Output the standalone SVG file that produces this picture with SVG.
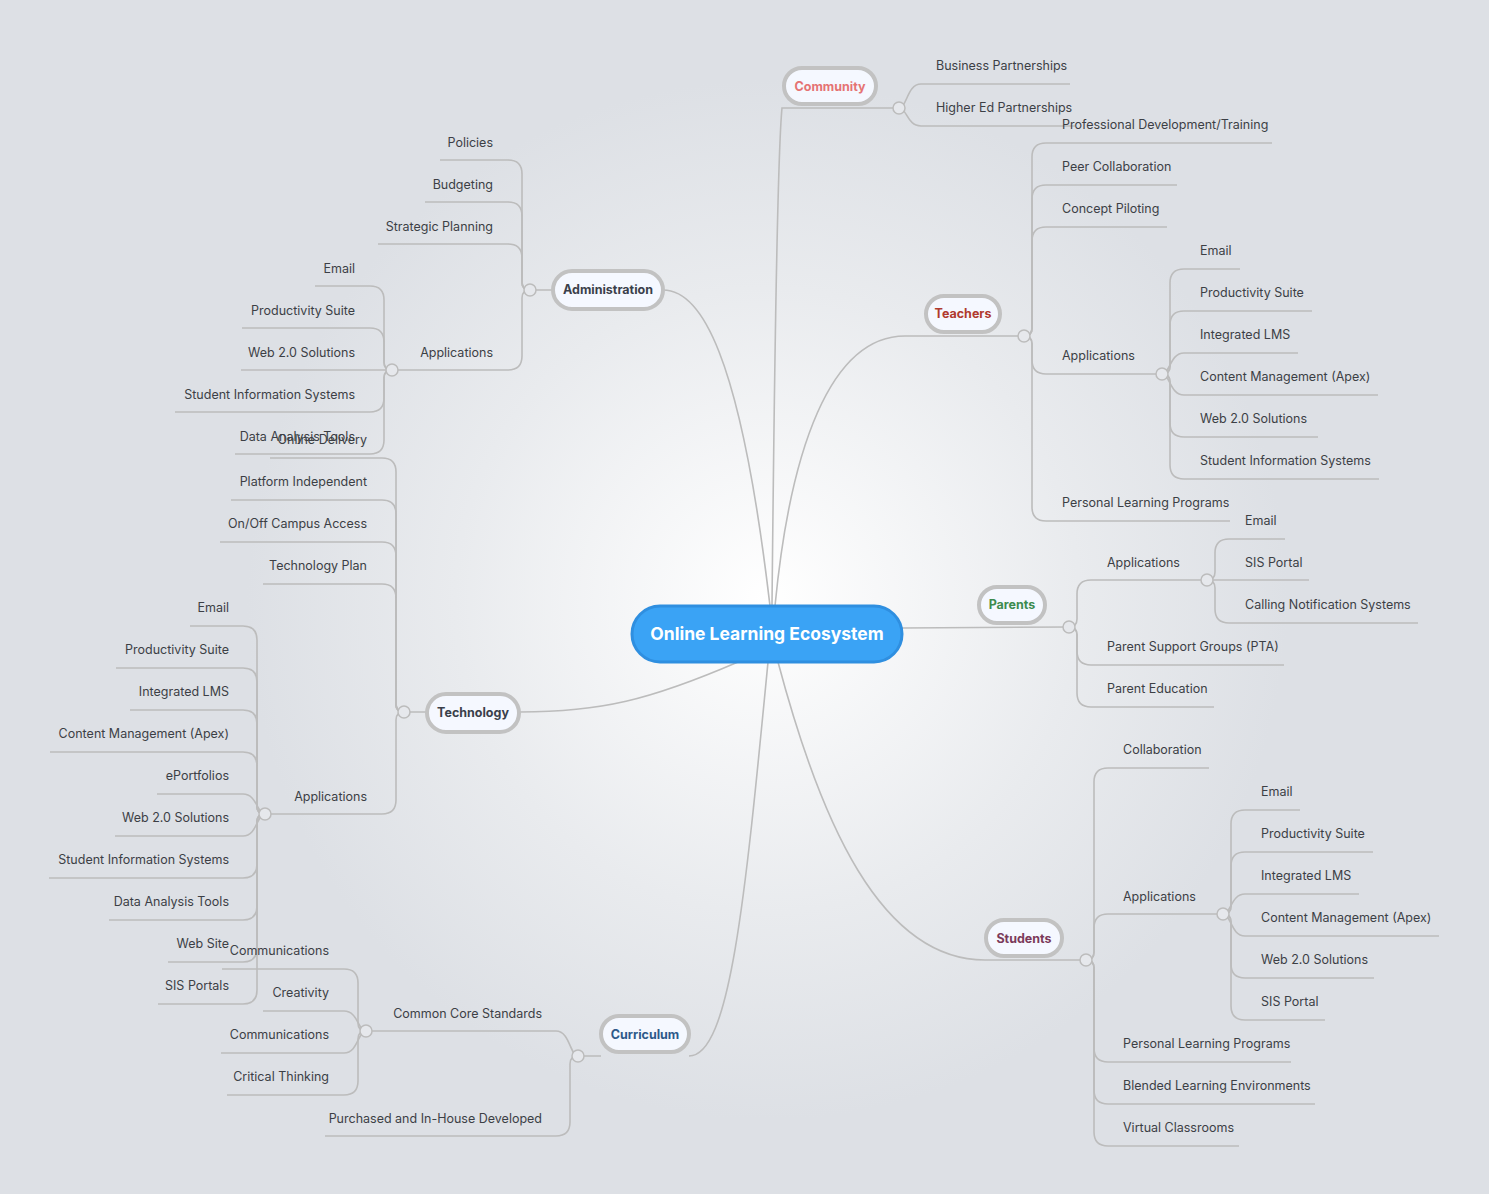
<svg xmlns="http://www.w3.org/2000/svg" width="1489" height="1194" viewBox="0 0 1489 1194">
<defs>
<radialGradient id="bg" cx="767" cy="600" r="520" gradientUnits="userSpaceOnUse">
<stop offset="0" stop-color="#ffffff"/><stop offset="0.6" stop-color="#e9ebee"/><stop offset="1" stop-color="#dde0e5"/>
</radialGradient>
<style>
.c{fill:none;stroke:#bcbcbc;stroke-width:1.6}
.j{fill:#e6e8ec;stroke:#bcbcbc;stroke-width:1.5}
.t{font-family:Inter,"Open Sans",sans-serif;font-size:12.5px;fill:#3c3f45}
.r{text-anchor:end}
.n{fill:#f5f8ff;stroke:#c2c2c2;stroke-width:4}
.nt{font-family:Inter,"Open Sans",sans-serif;font-size:12.5px;font-weight:bold;text-anchor:middle}
</style>
</defs>
<rect width="1489" height="1194" fill="#dde0e5"/>
<rect width="1489" height="1194" fill="url(#bg)"/>
<g id="connectors">
<path class="c" d="M775,606 C790,450 830,336 905,336 H1024"/>
<path class="c" d="M772,606 C775,300 778,150 782,108 H899"/>
<path class="c" d="M770,606 C740,350 700,290 663,290 M553,290 H530"/>
<path class="c" d="M738,662 C650,700 600,712 520,712 M427,712 H404"/>
<path class="c" d="M768,662 C745,900 730,1056 689,1056 M601,1056 H578"/>
<path class="c" d="M902,628 L1069,627"/>
<path class="c" d="M778,662 C820,820 880,960 985,960 H1086"/>
<path class="c" d="M530,290 Q522,290 522,282 V174 Q522,160 508,160 H440"/>
<path class="c" d="M530,290 Q522,290 522,282 V216 Q522,202 508,202 H425"/>
<path class="c" d="M530,290 Q522,290 522,282 V258 Q522,244 508,244 H378"/>
<path class="c" d="M530,290 Q522,290 522,298 V356 Q522,370 508,370 H392"/>
<path class="c" d="M392,370 Q384,370 384,362 V300 Q384,286 370,286 H315"/>
<path class="c" d="M392,370 Q384,370 384,362 V342 Q384,328 370,328 H242"/>
<path class="c" d="M392,370 H241"/>
<path class="c" d="M392,370 Q384,370 384,378 V398 Q384,412 370,412 H175"/>
<path class="c" d="M392,370 Q384,370 384,378 V440 Q384,454 370,454 H235"/>
<path class="c" d="M404,712 Q396,712 396,704 V472 Q396,458 382,458 H270"/>
<path class="c" d="M404,712 Q396,712 396,704 V514 Q396,500 382,500 H231"/>
<path class="c" d="M404,712 Q396,712 396,704 V556 Q396,542 382,542 H220"/>
<path class="c" d="M404,712 Q396,712 396,704 V598 Q396,584 382,584 H263"/>
<path class="c" d="M404,712 Q396,712 396,720 V800 Q396,814 382,814 H265"/>
<path class="c" d="M265,814 Q257,814 257,806 V640 Q257,626 243,626 H190"/>
<path class="c" d="M265,814 Q257,814 257,806 V682 Q257,668 243,668 H116"/>
<path class="c" d="M265,814 Q257,814 257,806 V724 Q257,710 243,710 H130"/>
<path class="c" d="M265,814 Q257,814 257,806 V766 Q257,752 243,752 H50"/>
<path class="c" d="M265,814 C257,814 257,794 243,794 H157"/>
<path class="c" d="M265,814 C257,814 257,836 243,836 H115"/>
<path class="c" d="M265,814 Q257,814 257,822 V864 Q257,878 243,878 H49"/>
<path class="c" d="M265,814 Q257,814 257,822 V906 Q257,920 243,920 H109"/>
<path class="c" d="M265,814 Q257,814 257,822 V948 Q257,962 243,962 H168"/>
<path class="c" d="M265,814 Q257,814 257,822 V990 Q257,1004 243,1004 H158"/>
<path class="c" d="M578,1056 C570,1056 570,1031 556,1031 H366"/>
<path class="c" d="M578,1056 Q570,1056 570,1064 V1122 Q570,1136 556,1136 H325"/>
<path class="c" d="M366,1031 Q358,1031 358,1023 V983 Q358,969 344,969 H222"/>
<path class="c" d="M366,1031 C358,1031 358,1011 344,1011 H263"/>
<path class="c" d="M366,1031 C358,1031 358,1053 344,1053 H221"/>
<path class="c" d="M366,1031 Q358,1031 358,1039 V1081 Q358,1095 344,1095 H227"/>
<path class="c" d="M899,108 C907,108 907,84 921,84 H1070"/>
<path class="c" d="M899,108 C907,108 907,126 921,126 H1075"/>
<path class="c" d="M1024,336 Q1032,336 1032,328 V157 Q1032,143 1046,143 H1272"/>
<path class="c" d="M1024,336 Q1032,336 1032,328 V199 Q1032,185 1046,185 H1177"/>
<path class="c" d="M1024,336 Q1032,336 1032,328 V241 Q1032,227 1046,227 H1167"/>
<path class="c" d="M1024,336 Q1032,336 1032,344 V360 Q1032,374 1046,374 H1162"/>
<path class="c" d="M1024,336 Q1032,336 1032,344 V507 Q1032,521 1046,521 H1230"/>
<path class="c" d="M1162,374 Q1170,374 1170,366 V283 Q1170,269 1184,269 H1240"/>
<path class="c" d="M1162,374 Q1170,374 1170,366 V325 Q1170,311 1184,311 H1312"/>
<path class="c" d="M1162,374 C1170,374 1170,353 1184,353 H1298"/>
<path class="c" d="M1162,374 C1170,374 1170,395 1184,395 H1378"/>
<path class="c" d="M1162,374 Q1170,374 1170,382 V423 Q1170,437 1184,437 H1318"/>
<path class="c" d="M1162,374 Q1170,374 1170,382 V465 Q1170,479 1184,479 H1379"/>
<path class="c" d="M1069,627 Q1077,627 1077,619 V594 Q1077,580 1091,580 H1207"/>
<path class="c" d="M1069,627 Q1077,627 1077,635 V651 Q1077,665 1091,665 H1284"/>
<path class="c" d="M1069,627 Q1077,627 1077,635 V693 Q1077,707 1091,707 H1214"/>
<path class="c" d="M1207,580 Q1215,580 1215,572 V553 Q1215,539 1229,539 H1285"/>
<path class="c" d="M1207,580 H1309"/>
<path class="c" d="M1207,580 Q1215,580 1215,588 V609 Q1215,623 1229,623 H1418"/>
<path class="c" d="M1086,960 Q1094,960 1094,952 V782 Q1094,768 1108,768 H1209"/>
<path class="c" d="M1086,960 Q1094,960 1094,952 V928 Q1094,914 1108,914 H1223"/>
<path class="c" d="M1086,960 Q1094,960 1094,968 V1048 Q1094,1062 1108,1062 H1291"/>
<path class="c" d="M1086,960 Q1094,960 1094,968 V1090 Q1094,1104 1108,1104 H1315"/>
<path class="c" d="M1086,960 Q1094,960 1094,968 V1132 Q1094,1146 1108,1146 H1239"/>
<path class="c" d="M1223,914 Q1231,914 1231,906 V824 Q1231,810 1245,810 H1300"/>
<path class="c" d="M1223,914 Q1231,914 1231,906 V866 Q1231,852 1245,852 H1373"/>
<path class="c" d="M1223,914 C1231,914 1231,894 1245,894 H1359"/>
<path class="c" d="M1223,914 C1231,914 1231,936 1245,936 H1439"/>
<path class="c" d="M1223,914 Q1231,914 1231,922 V964 Q1231,978 1245,978 H1374"/>
<path class="c" d="M1223,914 Q1231,914 1231,922 V1006 Q1231,1020 1245,1020 H1325"/>
</g>
<g id="junctions">
<circle class="j" cx="530" cy="290" r="6"/><circle class="j" cx="392" cy="370" r="6"/>
<circle class="j" cx="404" cy="712" r="6"/><circle class="j" cx="265" cy="814" r="6"/>
<circle class="j" cx="578" cy="1056" r="6"/><circle class="j" cx="366" cy="1031" r="6"/>
<circle class="j" cx="899" cy="108" r="6"/><circle class="j" cx="1024" cy="336" r="6"/>
<circle class="j" cx="1162" cy="374" r="6"/><circle class="j" cx="1069" cy="627" r="6"/>
<circle class="j" cx="1207" cy="580" r="6"/><circle class="j" cx="1086" cy="960" r="6"/>
<circle class="j" cx="1223" cy="914" r="6"/>
</g>
<g id="center">
<rect x="632" y="606" width="270" height="56" rx="28" fill="#3aa3f5" stroke="#2f8fe0" stroke-width="3"/>
<text x="767" y="640" text-anchor="middle" font-family="Inter,'Open Sans',sans-serif" font-size="17.5" font-weight="bold" fill="#ffffff">Online Learning Ecosystem</text>
</g>
<g id="administration"><rect class="n" x="553" y="271" width="110" height="38" rx="19"/><text class="nt" x="608" y="294" fill="#3a3f4a">Administration</text></g>
<g id="community"><rect class="n" x="784" y="68" width="92" height="36" rx="18"/><text class="nt" x="830" y="91" fill="#e57373">Community</text></g>
<g id="teachers"><rect class="n" x="926" y="296" width="74" height="36" rx="18"/><text class="nt" x="963" y="318" fill="#b03a2e">Teachers</text></g>
<g id="parents"><rect class="n" x="979" y="587" width="66" height="36" rx="18"/><text class="nt" x="1012" y="609" fill="#3d8b4f">Parents</text></g>
<g id="students"><rect class="n" x="986" y="920" width="76" height="36" rx="18"/><text class="nt" x="1024" y="943" fill="#7b3a5a">Students</text></g>
<g id="curriculum"><rect class="n" x="601" y="1016" width="88" height="36" rx="18"/><text class="nt" x="645" y="1039" fill="#2d5a8a">Curriculum</text></g>
<g id="technology"><rect class="n" x="427" y="694" width="92" height="38" rx="19"/><text class="nt" x="473" y="717" fill="#3a3f4a">Technology</text></g>
<g id="leaves">
<text class="t r" x="493" y="147">Policies</text>
<text class="t r" x="493" y="189">Budgeting</text>
<text class="t r" x="493" y="231">Strategic Planning</text>
<text class="t r" x="493" y="357">Applications</text>
<text class="t r" x="355" y="273">Email</text>
<text class="t r" x="355" y="315">Productivity Suite</text>
<text class="t r" x="355" y="357">Web 2.0 Solutions</text>
<text class="t r" x="355" y="399">Student Information Systems</text>
<text class="t r" x="355" y="441">Data Analysis Tools</text>
<text class="t r" x="367" y="444">Online Delivery</text>
<text class="t r" x="367" y="486">Platform Independent</text>
<text class="t r" x="367" y="528">On/Off Campus Access</text>
<text class="t r" x="367" y="570">Technology Plan</text>
<text class="t r" x="367" y="801">Applications</text>
<text class="t r" x="229" y="612">Email</text>
<text class="t r" x="229" y="654">Productivity Suite</text>
<text class="t r" x="229" y="696">Integrated LMS</text>
<text class="t r" x="229" y="738">Content Management (Apex)</text>
<text class="t r" x="229" y="780">ePortfolios</text>
<text class="t r" x="229" y="822">Web 2.0 Solutions</text>
<text class="t r" x="229" y="864">Student Information Systems</text>
<text class="t r" x="229" y="906">Data Analysis Tools</text>
<text class="t r" x="229" y="948">Web Site</text>
<text class="t r" x="229" y="990">SIS Portals</text>
<text class="t r" x="542" y="1018">Common Core Standards</text>
<text class="t r" x="542" y="1123">Purchased and In-House Developed</text>
<text class="t r" x="329" y="955">Communications</text>
<text class="t r" x="329" y="997">Creativity</text>
<text class="t r" x="329" y="1039">Communications</text>
<text class="t r" x="329" y="1081">Critical Thinking</text>
<text class="t" x="936" y="70">Business Partnerships</text>
<text class="t" x="936" y="112">Higher Ed Partnerships</text>
<text class="t" x="1062" y="129">Professional Development/Training</text>
<text class="t" x="1062" y="171">Peer Collaboration</text>
<text class="t" x="1062" y="213">Concept Piloting</text>
<text class="t" x="1062" y="360">Applications</text>
<text class="t" x="1062" y="507">Personal Learning Programs</text>
<text class="t" x="1200" y="255">Email</text>
<text class="t" x="1200" y="297">Productivity Suite</text>
<text class="t" x="1200" y="339">Integrated LMS</text>
<text class="t" x="1200" y="381">Content Management (Apex)</text>
<text class="t" x="1200" y="423">Web 2.0 Solutions</text>
<text class="t" x="1200" y="465">Student Information Systems</text>
<text class="t" x="1107" y="567">Applications</text>
<text class="t" x="1107" y="651">Parent Support Groups (PTA)</text>
<text class="t" x="1107" y="693">Parent Education</text>
<text class="t" x="1245" y="525">Email</text>
<text class="t" x="1245" y="567">SIS Portal</text>
<text class="t" x="1245" y="609">Calling Notification Systems</text>
<text class="t" x="1123" y="754">Collaboration</text>
<text class="t" x="1123" y="901">Applications</text>
<text class="t" x="1123" y="1048">Personal Learning Programs</text>
<text class="t" x="1123" y="1090">Blended Learning Environments</text>
<text class="t" x="1123" y="1132">Virtual Classrooms</text>
<text class="t" x="1261" y="796">Email</text>
<text class="t" x="1261" y="838">Productivity Suite</text>
<text class="t" x="1261" y="880">Integrated LMS</text>
<text class="t" x="1261" y="922">Content Management (Apex)</text>
<text class="t" x="1261" y="964">Web 2.0 Solutions</text>
<text class="t" x="1261" y="1006">SIS Portal</text>
</g>
</svg>
